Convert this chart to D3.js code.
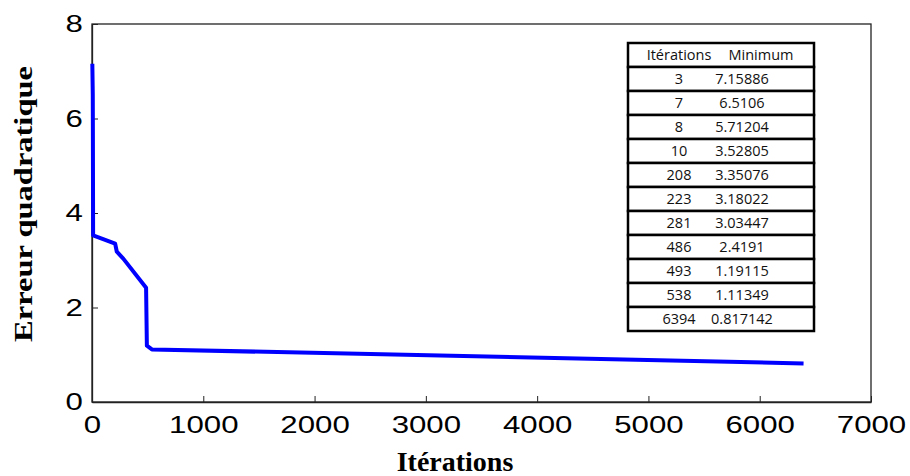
<!DOCTYPE html>
<html>
<head>
<meta charset="utf-8">
<script src="https://cdn.jsdelivr.net/npm/d3@7"></script>
<style>
  html, body { margin: 0; padding: 0; background: #fff; }
  svg { display: block; }
</style>
</head>
<body>
<svg id="chart" width="910" height="476"></svg>
<script>
// Best squared error found so far, recorded at each improving iteration
const iterations = [3, 7, 8, 10, 208, 223, 281, 486, 493, 538, 6394];
const minimum = [7.15886, 6.5106, 5.71204, 3.52805, 3.35076, 3.18022, 3.03447, 2.4191, 1.19115, 1.11349, 0.817142];
const minimumText = ["7.15886", "6.5106", "5.71204", "3.52805", "3.35076", "3.18022", "3.03447", "2.4191", "1.19115", "1.11349", "0.817142"];
const xTicks = [0, 1000, 2000, 3000, 4000, 5000, 6000, 7000];
const yTicks = [0, 2, 4, 6, 8];
const tableHeader = ["Itérations", "Minimum"];

const svg = d3.select("#chart");
const box = { left: 92, right: 871, top: 24, bottom: 402 };

const x = d3.scaleLinear().domain([0, 7000]).range([box.left, box.right]);
const y = d3.scaleLinear().domain([0, 8]).range([box.bottom, box.top]);

// frame
svg.append("rect")
  .attr("x", box.left).attr("y", box.top)
  .attr("width", box.right - box.left).attr("height", box.bottom - box.top)
  .attr("fill", "none").attr("stroke", "#222").attr("stroke-width", 1.3);

// x axis, ticks inside
const gx = svg.append("g")
  .attr("transform", `translate(0,${box.bottom})`)
  .call(d3.axisBottom(x).tickValues(xTicks).tickFormat(d3.format("d"))
        .tickSizeInner(-6).tickSizeOuter(0).tickPadding(14));
gx.select(".domain").attr("stroke", "#222").attr("stroke-width", 1.3);
gx.selectAll(".tick line").attr("stroke", "#222");
gx.selectAll(".tick text")
  .attr("font-family", "'Liberation Sans', Arial, sans-serif")
  .attr("font-size", 24).attr("fill", "#000")
  .attr("transform", "scale(1.3,1)");

// y axis, ticks inside
const gy = svg.append("g")
  .attr("transform", `translate(${box.left},0)`)
  .call(d3.axisLeft(y).tickValues(yTicks).tickFormat(d3.format("d"))
        .tickSizeInner(-6).tickSizeOuter(0).tickPadding(7));
gy.select(".domain").attr("stroke", "#222").attr("stroke-width", 1.3);
gy.selectAll(".tick line").attr("stroke", "#222");
gy.selectAll(".tick text")
  .attr("font-family", "'Liberation Sans', Arial, sans-serif")
  .attr("font-size", 24).attr("fill", "#000")
  .attr("transform", "scale(1.3,1)");

// axis titles
svg.append("text")
  .attr("x", 455).attr("y", 471)
  .attr("text-anchor", "middle")
  .attr("font-family", "'Liberation Serif', 'Times New Roman', serif")
  .attr("font-weight", "bold").attr("font-size", 28)
  .text("Itérations");

svg.append("text")
  .attr("transform", "translate(32,204) rotate(-90) scale(1.25,1)")
  .attr("text-anchor", "middle")
  .attr("font-family", "'Liberation Serif', 'Times New Roman', serif")
  .attr("font-weight", "bold").attr("font-size", 26)
  .text("Erreur quadratique");

// error curve
const line = d3.line().x(d => x(d[0])).y(d => y(d[1]));
svg.append("path")
  .datum(iterations.map((it, i) => [it, minimum[i]]))
  .attr("d", line)
  .attr("fill", "none")
  .attr("stroke", "#0000ff")
  .attr("stroke-width", 4)
  .attr("stroke-linejoin", "round");

// table of improvements
const tbl = { left: 628, right: 814, top: 43, rowH: 24 };
const colA = 679, colB = 742;
const tg = svg.append("g")
  .attr("font-family", "'Open Sans', 'Noto Sans', sans-serif")
  .attr("font-size", 14.5).attr("fill", "#111")
  .style("font-variant-ligatures", "none");

const rows = [tableHeader].concat(iterations.map((it, i) => [String(it), minimumText[i]]));
rows.forEach((r, i) => {
  const top = tbl.top + i * tbl.rowH;
  tg.append("rect")
    .attr("x", tbl.left).attr("y", top)
    .attr("width", tbl.right - tbl.left).attr("height", tbl.rowH)
    .attr("fill", "#fff").attr("stroke", "#000").attr("stroke-width", 2.5);
  const cy = top + tbl.rowH / 2 + 5;
  tg.append("text").attr("x", colA).attr("y", cy).attr("text-anchor", "middle").text(r[0]);
  tg.append("text").attr("x", i === 0 ? 761 : colB).attr("y", cy).attr("text-anchor", "middle").text(r[1]);
});
</script>
</body>
</html>
